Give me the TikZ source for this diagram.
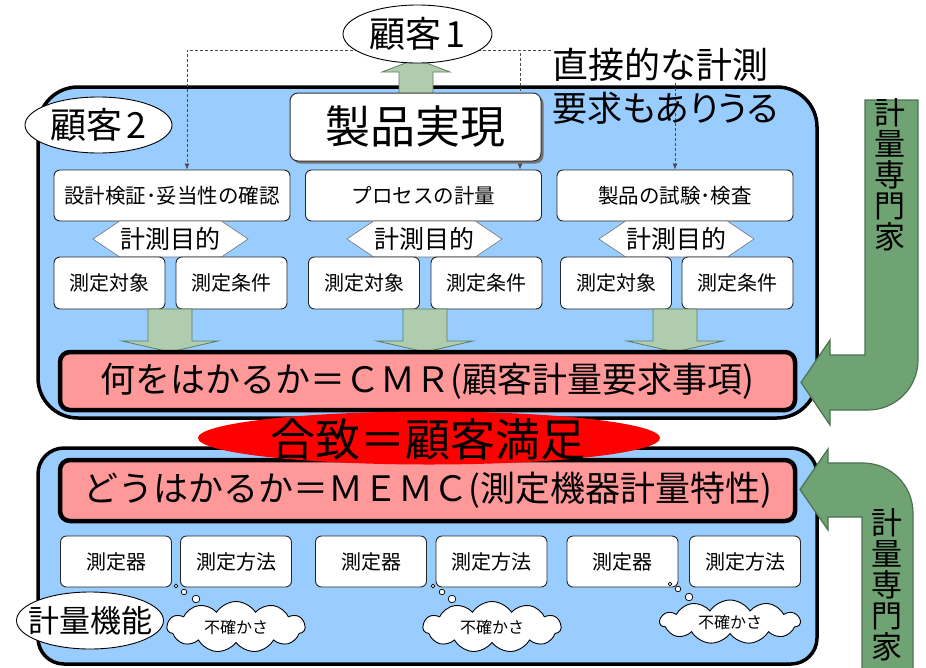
\documentclass[tikz,border=0pt]{standalone}
\usepackage{fontspec}
\setmainfont{Noto Sans CJK JP}
\newfontfamily\jpp[RawFeature=+palt]{Noto Sans CJK JP}
\usetikzlibrary{shapes.geometric,shapes.symbols,arrows.meta}
\newcommand{\fsz}[1]{\fontsize{#1}{#1}\selectfont}
\definecolor{skyb}{RGB}{153,204,255}
\definecolor{pinkf}{RGB}{255,153,153}
\definecolor{redf}{RGB}{255,0,0}
\definecolor{lgreen}{RGB}{175,204,175}
\definecolor{lgreenb}{RGB}{95,125,95}
\definecolor{dgreen}{RGB}{111,163,115}
\definecolor{dgreenb}{RGB}{75,115,80}
\begin{document}
\begin{tikzpicture}[x=1pt,y=-1pt,
 wbox/.style={draw=black!85, fill=white, rounded corners=6pt, line width=0.9pt, minimum height=51pt, inner sep=0pt},
 sbox/.style={wbox, minimum width=111pt, minimum height=52pt, font=\fsz{20}},
 tbox/.style={wbox, minimum width=236pt, font=\fsz{20.5}},
 oval/.style={ellipse, draw=black, fill=white, line width=0.9pt, inner sep=0pt},
 hexa/.style={signal, signal to=west and east, signal pointer angle=68, draw=black!55, fill=white, line width=0.6pt, minimum width=155pt, minimum height=36pt, inner sep=0pt, font=\fsz{25}},
 cloudn/.style={cloud, cloud puffs=11, cloud puff arc=115, draw=black, fill=white, line width=0.9pt, inner sep=0pt},
 bubble/.style={circle, draw=black, fill=white, line width=0.7pt, inner sep=0pt},
 bluebox/.style={draw=black, fill=skyb, line width=3.5pt, inner sep=0pt},
 pinkbox/.style={draw=black, fill=pinkf, line width=4.5pt, rounded corners=10pt, inner sep=0pt},
 fatarrow/.style={fill=lgreen, draw=lgreenb, line width=0.8pt},
 bentarrow/.style={fill=dgreen, draw=dgreenb, line width=1.2pt},
 dashl/.style={dash pattern=on 3pt off 2pt, draw=black!70, line width=0.7pt, -{Latex[length=6pt,width=5pt]}},
 txt/.style={inner sep=0pt}
]
\useasboundingbox (0,0) rectangle (926,667);
\fill[white] (0,0) rectangle (926,667);
% blue frames
\node[bluebox, rounded corners=40pt, minimum width=779pt, minimum height=331pt] (ub) at (427.5,252.5) {};
\node[bluebox, rounded corners=26pt, minimum width=779pt, minimum height=216pt] (lb) at (427.5,556) {};
% purpose boxes
\node[tbox] (b1) at (172,195.5) {設計検証･妥当性の確認};
\node[tbox] (b2) at (423.5,195.5) {プロセスの計量};
\node[tbox] (b3) at (675,195.5) {製品の試験･検査};
% dashed lines
\coordinate (dl) at (418,50);
\draw[dashl] (dl) -| ([xshift=15pt]b1.north);
\draw[dashl] (dl) -| ([xshift=96.5pt]b2.north);
\draw[dashl] (dl) -| (b3.north);
% up arrow
\draw[fatarrow] (399,95) -- (399,72) -- (382,72) -- (416,59) -- (450,72) -- (433,72) -- (433,95) -- cycle;
% product realization
\node[fill=black!55, rounded corners=8pt, minimum width=251pt, minimum height=68pt, inner sep=0pt] (prsh) at (418,129.5) {};
\node[draw=black!80, fill=white, rounded corners=8pt, line width=1pt, minimum width=251pt, minimum height=68pt, inner sep=0pt, font=\fsz{45}] (pr) at (415.5,127) {製品実現};
% customers
\node[oval, minimum width=149pt, minimum height=58pt] (c1) at (417.5,34) {};
\node[txt, font=\fsz{36}] (c1t) at (c1) {顧客\hspace{4pt}1};
\node[oval, minimum width=147pt, minimum height=56pt] (c2) at (98.5,125) {};
\node[txt, font=\fsz{36}] (c2t) at (c2) {顧客\hspace{4pt}2};
% direct measurement note
\node[fill=white, inner sep=0pt, anchor=west, font=\fsz{36}] (dt1) at (552,65) {直接的な計測};
\node[inner sep=0pt, anchor=west, font=\jpp\fsz{35}] (dt2) at (552,108) {要求もありうる};
% purpose hexagons
\node[hexa] (h1) at (170.5,239) {計測目的};
\node[hexa] (h2) at (424.5,239) {計測目的};
\node[hexa] (h3) at (676.5,239) {計測目的};
% object / condition
\node[sbox] (m1a) at (109.5,283) {測定対象};
\node[sbox] (m1b) at (231.5,283) {測定条件};
\node[sbox] (m2a) at (364,283) {測定対象};
\node[sbox] (m2b) at (486.5,283) {測定条件};
\node[sbox] (m3a) at (616,283) {測定対象};
\node[sbox] (m3b) at (737.5,283) {測定条件};
% down arrows
\foreach \cx in {170,425,675}{
 \draw[fatarrow] (\cx-22,309) -- (\cx-22,341) -- (\cx-48,341) -- (\cx,352) -- (\cx+48,341) -- (\cx+22,341) -- (\cx+22,309) -- cycle;
}
% MEMC
\node[pinkbox, minimum width=735pt, minimum height=61pt, font=\fsz{35}] (memc) at (427.5,490.5) {どうはかるか＝ＭＥＭＣ(測定機器計量特性)};
% CMR
\node[pinkbox, minimum width=735pt, minimum height=58pt, font=\fsz{35}] (cmr) at (427.5,381) {何をはかるか＝ＣＭＲ(顧客計量要求事項)};
% agreement ellipse
\node[ellipse, fill=redf, minimum width=462pt, minimum height=53pt, inner sep=0pt] (cons) at (429,438) {};
\node[txt, font=\fsz{45}] (const) at (428,439) {合致＝顧客満足};
% instruments / methods
\node[sbox, minimum height=51pt] (d1a) at (116,561.5) {測定器};
\node[sbox, minimum height=51pt] (d1b) at (236,561.5) {測定方法};
\node[sbox, minimum height=51pt] (d2a) at (371,561.5) {測定器};
\node[sbox, minimum height=51pt] (d2b) at (491.5,561.5) {測定方法};
\node[sbox, minimum height=51pt] (d3a) at (622.5,561.5) {測定器};
\node[sbox, minimum height=51pt] (d3b) at (745,561.5) {測定方法};
% thought bubbles
\node[bubble, minimum size=3.6pt] (p1a) at (176,586) {};
\node[bubble, minimum size=5.6pt] (p1b) at (184,592) {};
\node[bubble, minimum size=7.6pt] (p1c) at (196,599) {};
\node[bubble, minimum size=3.6pt] (p2a) at (433,586) {};
\node[bubble, minimum size=5.6pt] (p2b) at (442,592) {};
\node[bubble, minimum size=7.6pt] (p2c) at (452,599) {};
\node[bubble, minimum size=3.6pt] (p3a) at (670,584) {};
\node[bubble, minimum size=5.6pt] (p3b) at (678,589) {};
\node[bubble, minimum size=7.6pt] (p3c) at (689,597) {};
% clouds
\node[cloudn, minimum width=138pt, minimum height=51pt] (u1) at (236,627) {};
\node[txt, font=\fsz{16}] (u1t) at (u1) {不確かさ};
\node[cloudn, minimum width=138pt, minimum height=51pt] (u2) at (492,627) {};
\node[txt, font=\fsz{16}] (u2t) at (u2) {不確かさ};
\node[cloudn, minimum width=140pt, minimum height=44pt] (u3) at (730,622) {};
\node[txt, font=\fsz{16}] (u3t) at (u3) {不確かさ};
% metrology function
\node[oval, minimum width=147pt, minimum height=57pt] (kf) at (90,620.5) {};
\node[txt, font=\fsz{31}] (kft) at (kf) {計量機能};
% bent arrows
\draw[bentarrow] (865,100) -- (918,100) -- (918,360) .. controls (918,387.6) and (895.6,410) .. (868,410) -- (830,410) -- (830,425) -- (801,382.5) -- (830,340) -- (830,355) -- (865,355) -- cycle;
\node[txt, font=\fsz{31}, align=center] (ex1) at (890,175) {計\\量\\専\\門\\家};
\draw[bentarrow] (862,672) -- (862,517) -- (828,517) -- (828,530) -- (800,489.5) -- (828,449) -- (828,463) -- (863,463) .. controls (890.6,463) and (913,485.4) .. (913,513) -- (913,672) -- cycle;
\node[txt, font=\fsz{31}, align=center] (ex2) at (887,585) {計\\量\\専\\門\\家};
\end{tikzpicture}
\end{document}
